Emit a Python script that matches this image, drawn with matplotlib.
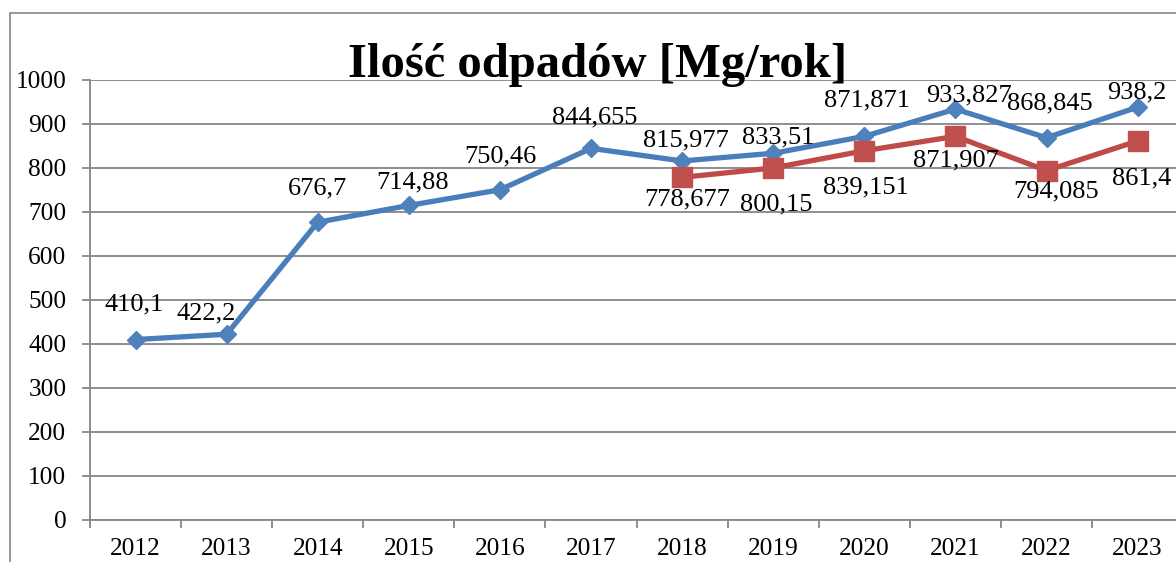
import matplotlib
matplotlib.use("Agg")
import matplotlib.pyplot as plt
from matplotlib.patches import Rectangle

years = ["2012", "2013", "2014", "2015", "2016", "2017", "2018", "2019", "2020", "2021", "2022", "2023"]
blue_values = [410.1, 422.2, 676.7, 714.88, 750.46, 844.655, 815.977, 833.51, 871.871, 933.827, 868.845, 938.2]
red_years = ["2018", "2019", "2020", "2021", "2022", "2023"]
red_values = [778.677, 800.15, 839.151, 871.907, 794.085, 861.4]
blue_labels = ["410,1", "422,2", "676,7", "714,88", "750,46", "844,655", "815,977", "833,51", "871,871", "933,827", "868,845", "938,2"]
red_labels = ["778,677", "800,15", "839,151", "871,907", "794,085", "861,4"]
title = "Ilość odpadów [Mg/rok]"
yticks = list(range(0, 1001, 100))

# label offsets (pixels: dx, dy with dy up positive)
blue_off = [(-1, 35), (-20, 21), (0, 34), (4, 23), (0, 33), (4, 31), (4, 21), (5, 16), (3, 36), (14, 14), (3, 34), (-1, 15)]
red_off = [(5, -22), (3, -37), (2, -37), (0, -24), (10, -21), (4, -37)]

W, H = 1176, 562
fig = plt.figure(figsize=(W / 100, H / 100), dpi=100)
plt.rcParams['font.family'] = ['Liberation Serif', 'DejaVu Serif']

grid_c = "#868686"
fig.patches.append(Rectangle((10 / W, -0.05), 1.2, 1 - 13 / H + 0.05, transform=fig.transFigure,
                             fill=False, edgecolor=grid_c, linewidth=1.2))

ax = fig.add_axes([90 / W, (H - 520) / H, 12 * 91.1 / W, 440 / H])
ax.set_xlim(-0.5, 11.5)
ax.set_ylim(0, 1000)
ax.set_yticks(yticks)
ax.set_yticklabels([str(v) for v in yticks])
ax.yaxis.grid(True, color=grid_c, linewidth=1.3)
ax.set_axisbelow(True)
for s in ["top", "right"]:
    ax.spines[s].set_visible(False)
for s in ["left", "bottom"]:
    ax.spines[s].set_color(grid_c)
    ax.spines[s].set_linewidth(1.3)

xpos = list(range(len(years)))
ax.set_xticks(xpos)
ax.set_xticklabels(years)
ax.set_xticks([i - 0.5 for i in range(len(years) + 1)], minor=True)
ax.tick_params(axis="x", which="major", length=0, pad=13, labelsize=18.3)
ax.tick_params(axis="x", which="minor", length=6, width=1.3, color=grid_c, direction="out")
ax.tick_params(axis="y", length=6, width=1.3, color=grid_c, pad=11, labelsize=18.3)

blue = "#4A7EBB"
red = "#BE4B48"
ax.plot(xpos, blue_values, color=blue, linewidth=3.8, marker="D", markersize=9.5,
        markerfacecolor="#4F81BD", markeredgecolor="#4F81BD", zorder=3, clip_on=False)
rx = [years.index(y) for y in red_years]
ax.plot(rx, red_values, color=red, linewidth=3.8, marker="s", markersize=14.5,
        markerfacecolor="#C0504D", markeredgecolor="#C0504D", zorder=3, clip_on=False)

for x, v, lab, (dx, dy) in zip(xpos, blue_values, blue_labels, blue_off):
    ax.annotate(lab, (x, v), xytext=(dx * 0.72, dy * 0.72), textcoords="offset points",
                ha="center", va="center", fontsize=19, color="black", zorder=5)
for x, v, lab, (dx, dy) in zip(rx, red_values, red_labels, red_off):
    ax.annotate(lab, (x, v), xytext=(dx * 0.72, dy * 0.72), textcoords="offset points",
                ha="center", va="center", fontsize=19, color="black", zorder=5)

fig.text(598 / W, 1 - 77 / H, title, ha="center", va="baseline", fontsize=35, fontweight="bold")

fig.savefig("out.png", dpi=100)
